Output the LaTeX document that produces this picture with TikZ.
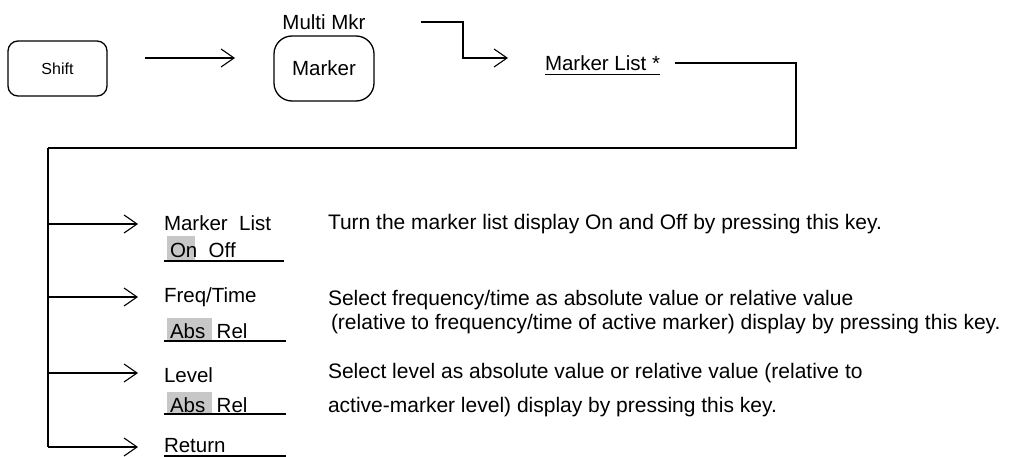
\documentclass[tikz,border=0pt]{standalone}
\usepackage{fontspec}
\setmainfont{Liberation Sans}
\usetikzlibrary{arrows.meta}
\begin{document}
\begin{tikzpicture}[x=1pt,y=-1pt,
  every node/.style={inner sep=0pt, outer sep=0pt},
  txt/.style={font=\fontsize{20.5}{24}\selectfont, anchor=west},
  desc/.style={font=\fontsize{21}{25}\selectfont, anchor=west},
  keybox/.style={draw, line width=1.3pt, rounded corners=#1},
  conn/.style={line width=1.1pt, -{Straight Barb[length=13pt,width=18pt,line width=1.1pt]}},
  wire/.style={line width=1.1pt},
  uline/.style={line width=1.1pt},
  hl/.style={fill=black!22, draw=none}]
\useasboundingbox (0,0) rectangle (1011,457);

% top row
\node[keybox=10pt, minimum width=99pt, minimum height=55pt, font=\fontsize{16}{19}\selectfont] (shift) at (57.5,68.5) {Shift};
\node[keybox=18pt, minimum width=100pt, minimum height=65pt, font=\fontsize{20.5}{24}\selectfont] (marker) at (324,68.5) {Marker};
\node[font=\fontsize{20.5}{24}\selectfont] (multi) at (324,22) {Multi Mkr};
\coordinate (s1) at (145,58);
\coordinate (s2) at (235,58);
\draw[conn] (s1) -- (s2);
\coordinate (m1) at (421,22);
\coordinate (m2) at (508,58);
\draw[conn] (m1) -- (463,22) |- (m2);
\node[font=\fontsize{20.5}{24}\selectfont, anchor=west] (mlist) at (545,63) {Marker List *};
\draw[uline] ([yshift=-4pt]mlist.south west) -- ([yshift=-4pt]mlist.south east);
\coordinate (w1) at (675,63);
\coordinate (trunk) at (48,148);
\coordinate (ret) at (48,447);
\draw[wire] (w1) -- (796,63) -- (796,148) -- (trunk);

% branches
\coordinate (b1) at (48,224);
\coordinate (b2) at (48,297);
\coordinate (b3) at (48,373);
\coordinate (t1) at (138,224);
\coordinate (t2) at (138,297);
\coordinate (t3) at (138,373);
\coordinate (t4) at (138,447);
\draw[wire] (trunk) -- (ret);
\draw[conn] (b1) -- (t1);
\draw[conn] (b2) -- (t2);
\draw[conn] (b3) -- (t3);
\draw[conn] (ret) -- (t4);

% labels
\fill[hl] (167,236) rectangle (195,260);
\fill[hl] (167,318) rectangle (212,341);
\fill[hl] (167,392) rectangle (212,413);
\node[txt] (l1) at (164,223) {Marker\ \ List};
\node[txt] (l1b) at (170,250) {On\ \ Off};
\node[txt] (l2) at (164,297) {Freq/Time};
\node[txt] (l2b) at (170,331) {Abs\ \ Rel};
\node[txt] (l3) at (164,375) {Level};
\node[txt] (l3b) at (170,405) {Abs\ \ Rel};
\node[txt] (l4) at (164,446) {Return};
\draw[uline] (164,261) -- (284,261);
\draw[uline] (164,341) -- (286,341);
\draw[uline] (164,414) -- (286,414);
\draw[uline] (164,456) -- (286,456);

% descriptions
\node[desc] (d1) at (328,224) {Turn the marker list display On and Off by pressing this key.};
\node[desc] (d2) at (328,300) {Select frequency/time as absolute value or relative value};
\node[desc] (d2b) at (331,324) {(relative to frequency/time of active marker) display by pressing this key.};
\node[desc] (d3) at (328,373) {Select level as absolute value or relative value (relative to};
\node[desc] (d3b) at (328,407) {active-marker level) display by pressing this key.};
\end{tikzpicture}
\end{document}
